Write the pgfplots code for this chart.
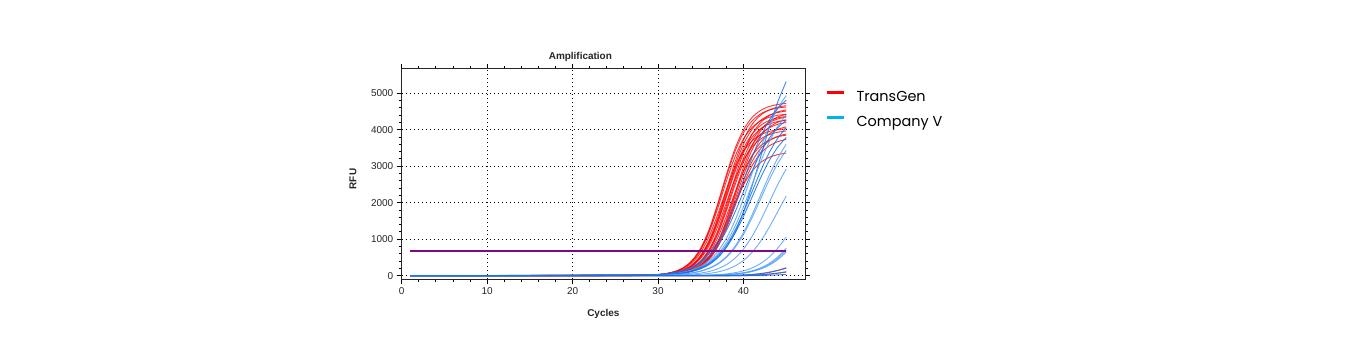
\documentclass[border=0pt]{standalone}
\usepackage{fontspec}
\setmainfont{Liberation Sans}
\newfontfamily\legendfont{Poppins}
\usepackage{pgfplots}
\pgfplotsset{compat=1.18}
\definecolor{tgred}{RGB}{255,0,0}
\definecolor{cvblue}{RGB}{20,115,235}
\definecolor{cvlight}{RGB}{85,160,250}
\definecolor{legblue}{RGB}{0,176,240}
\definecolor{thr}{RGB}{125,10,130}
\pgfplotsset{
  rc/.style={tgred, opacity=0.8, line width=0.9bp, smooth, tension=0.5, forget plot},
  bc/.style={cvblue, opacity=0.85, line width=0.9bp, smooth, tension=0.5, forget plot},
  bl/.style={cvlight, opacity=0.85, line width=0.9bp, smooth, tension=0.5, forget plot},
}
\begin{document}
\begin{tikzpicture}
\useasboundingbox (0,0) rectangle (1363bp,357bp);
\fill[white] (0,0) rectangle (1363bp,357bp);
\begin{axis}[
  at={(401.7bp,78bp)}, anchor=south west,
  scale only axis, width=403.3bp, height=210bp,
  xmin=0, xmax=47.2, ymin=-90, ymax=5660,
  xtick={0,10,20,30,40}, ytick={0,1000,2000,3000,4000,5000},
  minor x tick num=4, minor y tick num=4,
  tick align=outside, major tick length=5bp, minor tick length=3bp,
  xmajorgrids, ymajorgrids,
  major grid style={black, line width=0.8bp, dash pattern=on 0.8bp off 3.2bp},
  axis line style={black!85, line width=1bp},
  tick style={black, line width=0.8bp},
  ticklabel style={font=\fontsize{10}{12}\selectfont, text=black!85},
  /pgf/number format/assume math mode=true,
  /pgf/number format/1000 sep={},
  title={\bfseries Amplification},
  every axis title/.style={at={(axis description cs:0.443,1)}, anchor=base, yshift=9.5bp, font=\fontsize{10}{12}\selectfont, text=black!85},
  xlabel={\bfseries Cycles}, ylabel={\bfseries RFU},
  every axis x label/.style={at={(axis description cs:0.5,0)}, anchor=base, yshift=-37.5bp, font=\fontsize{10}{12}\selectfont, text=black!85},
  every axis y label/.style={at={(axis description cs:-0.1126,0.476)}, rotate=90, anchor=base, font=\fontsize{10}{12}\selectfont, text=black!85},
  legend image code/.code={\draw[#1, line width=2.6bp] (0bp,5bp) -- (17bp,5bp); \path[draw=none, fill=none] (0bp,5bp) -- (30bp,5bp);},
  legend cell align=left,
  legend style={at={(axis description cs:1,1)}, anchor=north west, xshift=20bp, yshift=-21.5bp,
    draw=none, fill=none, inner sep=0pt, row sep=11bp, column sep=0pt,
    nodes={inner sep=0pt, text height=11bp, text depth=3bp},
    font=\legendfont\fontsize{14.5}{16}\selectfont},
]
% TransGen (red)
\addplot[rc] coordinates {(1,0)(29,16)(30,32)(31,62)(32,118)(33,225)(34,420)(35,755)(36,1277)(37,1983)(38,2767)(39,3473)(40,3995)(41,4330)(42,4525)(43,4632)(44,4688)(45,4718)};
\addplot[rc] coordinates {(1,0)(29,16)(30,31)(31,60)(32,116)(33,220)(34,411)(35,739)(36,1250)(37,1941)(38,2709)(39,3400)(40,3911)(41,4239)(42,4430)(43,4534)(44,4590)(45,4619)};
\addplot[rc] coordinates {(1,0)(29,15)(30,30)(31,58)(32,111)(33,211)(34,393)(35,707)(36,1197)(37,1857)(38,2593)(39,3253)(40,3743)(41,4057)(42,4239)(43,4339)(44,4392)(45,4420)};
\addplot[rc] coordinates {(1,0)(29,14)(30,27)(31,53)(32,101)(33,192)(34,358)(35,644)(36,1089)(37,1690)(38,2360)(39,2961)(40,3406)(41,3692)(42,3858)(43,3949)(44,3997)(45,4023)};
\addplot[rc] coordinates {(1,0)(29,12)(30,23)(31,44)(32,85)(33,162)(34,306)(35,559)(36,980)(37,1594)(38,2350)(39,3106)(40,3720)(41,4141)(42,4395)(43,4538)(44,4615)(45,4656)};
\addplot[rc] coordinates {(1,0)(29,11)(30,22)(31,42)(32,82)(33,157)(34,296)(35,541)(36,949)(37,1543)(38,2275)(39,3007)(40,3601)(41,4009)(42,4254)(43,4393)(44,4468)(45,4508)};
\addplot[rc] coordinates {(1,0)(29,11)(30,21)(31,41)(32,79)(33,152)(34,286)(35,524)(36,918)(37,1492)(38,2200)(39,2908)(40,3482)(41,3876)(42,4114)(43,4248)(44,4321)(45,4359)};
\addplot[rc] coordinates {(1,0)(29,11)(30,21)(31,40)(32,77)(33,148)(34,280)(35,512)(36,897)(37,1459)(38,2150)(39,2841)(40,3403)(41,3788)(42,4021)(43,4152)(44,4223)(45,4260)};
\addplot[rc] coordinates {(1,0)(29,10)(30,19)(31,37)(32,72)(33,138)(34,260)(35,476)(36,834)(37,1357)(38,2000)(39,2643)(40,3166)(41,3524)(42,3740)(43,3862)(44,3928)(45,3963)};
\addplot[rc] coordinates {(1,0)(29,8)(30,16)(31,31)(32,60)(33,115)(34,218)(35,407)(36,731)(37,1237)(38,1920)(39,2680)(40,3363)(41,3869)(42,4193)(43,4382)(44,4485)(45,4540)};
\addplot[rc] coordinates {(1,0)(29,8)(30,15)(31,29)(32,57)(33,110)(34,209)(35,389)(36,699)(37,1183)(38,1837)(39,2563)(40,3217)(41,3701)(42,4011)(43,4191)(44,4290)(45,4343)};
\addplot[rc] coordinates {(1,0)(29,8)(30,15)(31,28)(32,55)(33,106)(34,201)(35,376)(36,675)(37,1143)(38,1774)(39,2476)(40,3107)(41,3575)(42,3874)(43,4049)(44,4144)(45,4195)};
\addplot[rc] coordinates {(1,0)(29,7)(30,14)(31,26)(32,51)(33,97)(34,185)(35,345)(36,620)(37,1049)(38,1628)(39,2272)(40,2851)(41,3280)(42,3555)(43,3715)(44,3803)(45,3849)};
\addplot[rc] coordinates {(1,0)(29,6)(30,12)(31,23)(32,44)(33,85)(34,161)(35,301)(36,540)(37,914)(38,1419)(39,1981)(40,2486)(41,2860)(42,3099)(43,3239)(44,3315)(45,3356)};
\addplot[rc] coordinates {(1,0)(29,6)(30,11)(31,21)(32,40)(33,78)(34,150)(35,283)(36,518)(37,907)(38,1476)(39,2175)(40,2874)(41,3443)(42,3832)(43,4067)(44,4200)(45,4272)};
\addplot[rc] coordinates {(1,0)(29,5)(30,10)(31,19)(32,37)(33,71)(34,136)(35,257)(36,470)(37,824)(38,1340)(39,1975)(40,2610)(41,3126)(42,3480)(43,3693)(44,3814)(45,3879)};
\addplot[rc] coordinates {(1,0)(29,5)(30,10)(31,18)(32,35)(33,68)(34,131)(35,247)(36,452)(37,793)(38,1289)(39,1900)(40,2511)(41,3007)(42,3348)(43,3553)(44,3669)(45,3732)};
\addplot[rc] coordinates {(1,0)(29,6)(30,11)(31,22)(32,42)(33,81)(34,155)(35,293)(36,536)(37,939)(38,1526)(39,2250)(40,2974)(41,3561)(42,3965)(43,4208)(44,4345)(45,4419)};
\addplot[rc] coordinates {(1,0)(29,5)(30,10)(31,20)(32,39)(33,75)(34,143)(35,270)(36,494)(37,866)(38,1408)(39,2075)(40,2742)(41,3284)(42,3656)(43,3880)(44,4007)(45,4075)};
\addplot[rc] coordinates {(1,0)(36,1)(37,2)(38,5)(39,9)(40,17)(41,31)(42,56)(43,94)(44,146)(45,204)};
\addplot[rc] coordinates {(1,0)(38,2)(39,4)(40,7)(41,13)(42,24)(43,42)(44,68)(45,100)};
% Company V (blue)
\addplot[bc] coordinates {(1,0)(29,10)(30,16)(31,27)(32,44)(33,72)(34,117)(35,190)(36,308)(37,493)(38,775)(39,1186)(40,1748)(41,2454)(42,3250)(43,4046)(44,4752)(45,5314)};
\addplot[bl] coordinates {(1,0)(29,14)(30,23)(31,38)(32,62)(33,101)(34,164)(35,265)(36,425)(37,668)(38,1021)(39,1506)(40,2114)(41,2800)(42,3486)(43,4094)(44,4579)(45,4932)};
\addplot[bc] coordinates {(1,0)(29,21)(30,35)(31,57)(32,94)(33,152)(34,246)(35,395)(36,620)(37,948)(38,1398)(39,1963)(40,2600)(41,3237)(42,3802)(43,4252)(44,4580)(45,4805)};
\addplot[bl] coordinates {(1,0)(29,13)(30,21)(31,34)(32,55)(33,90)(34,147)(35,237)(36,380)(37,596)(38,912)(39,1345)(40,1888)(41,2500)(42,3113)(43,3656)(44,4088)(45,4404)};
\addplot[bc] coordinates {(1,0)(29,19)(30,31)(31,51)(32,83)(33,135)(34,218)(35,349)(36,548)(37,839)(38,1237)(39,1737)(40,2300)(41,2864)(42,3363)(43,3761)(44,4052)(45,4251)};
\addplot[bc] coordinates {(1,0)(29,12)(30,19)(31,31)(32,51)(33,83)(34,135)(35,218)(36,349)(37,548)(38,839)(39,1237)(40,1737)(41,2300)(42,2864)(43,3363)(44,3761)(45,4052)};
\addplot[bl] coordinates {(1,0)(29,7)(30,11)(31,18)(32,29)(33,48)(34,79)(35,129)(36,209)(37,334)(38,524)(39,803)(40,1183)(41,1661)(42,2200)(43,2739)(44,3217)(45,3597)};
\addplot[bc] coordinates {(1,0)(29,11)(30,18)(31,29)(32,47)(33,77)(34,126)(35,204)(36,326)(37,513)(38,784)(39,1156)(40,1623)(41,2150)(42,2677)(43,3144)(44,3516)(45,3787)};
\addplot[bl] coordinates {(1,0)(29,7)(30,11)(31,17)(32,28)(33,46)(34,76)(35,123)(36,199)(37,319)(38,501)(39,766)(40,1129)(41,1586)(42,2100)(43,2615)(44,3071)(45,3434)};
\addplot[bl] coordinates {(1,0)(30,6)(31,10)(32,16)(33,27)(34,44)(35,72)(36,117)(37,190)(38,304)(39,477)(40,730)(41,1076)(42,1510)(43,2000)(44,2490)(45,2924)};
\addplot[bl] coordinates {(1,0)(31,5)(32,9)(33,14)(34,23)(35,39)(36,63)(37,103)(38,166)(39,266)(40,417)(41,638)(42,941)(43,1321)(44,1750)(45,2179)};
\addplot[bl] coordinates {(1,0)(33,4)(34,7)(35,11)(36,19)(37,31)(38,50)(39,82)(40,133)(41,213)(42,334)(43,511)(44,753)(45,1057)};
\addplot[bl] coordinates {(1,0)(35,7)(36,11)(37,19)(38,31)(39,50)(40,82)(41,133)(42,213)(43,334)(44,511)(45,753)};
\addplot[bl] coordinates {(1,0)(35,6)(36,10)(37,16)(38,26)(39,43)(40,70)(41,114)(42,182)(43,286)(44,438)(45,645)};
\addplot[bl] coordinates {(1,0)(35,7)(36,11)(37,17)(38,29)(39,47)(40,76)(41,123)(42,197)(43,310)(44,474)(45,699)};
\addplot[bc] coordinates {(1,0)(36,3)(37,5)(38,8)(39,13)(40,22)(41,35)(42,57)(43,91)(44,143)(45,219)};
\addplot[bc] coordinates {(1,0)(38,4)(39,7)(40,11)(41,18)(42,28)(43,46)(44,72)(45,109)};
\addplot[bc] coordinates {(1,0)(40,3)(41,5)(42,9)(43,14)(44,23)(45,36)};
% threshold
\addplot[thr, line width=1.8bp, forget plot] coordinates {(1,680)(45,680)};
% legend
\addlegendimage{tgred}
\addlegendentry{TransGen}
\addlegendimage{legblue}
\addlegendentry{Company V}
\end{axis}
\end{tikzpicture}
\end{document}
